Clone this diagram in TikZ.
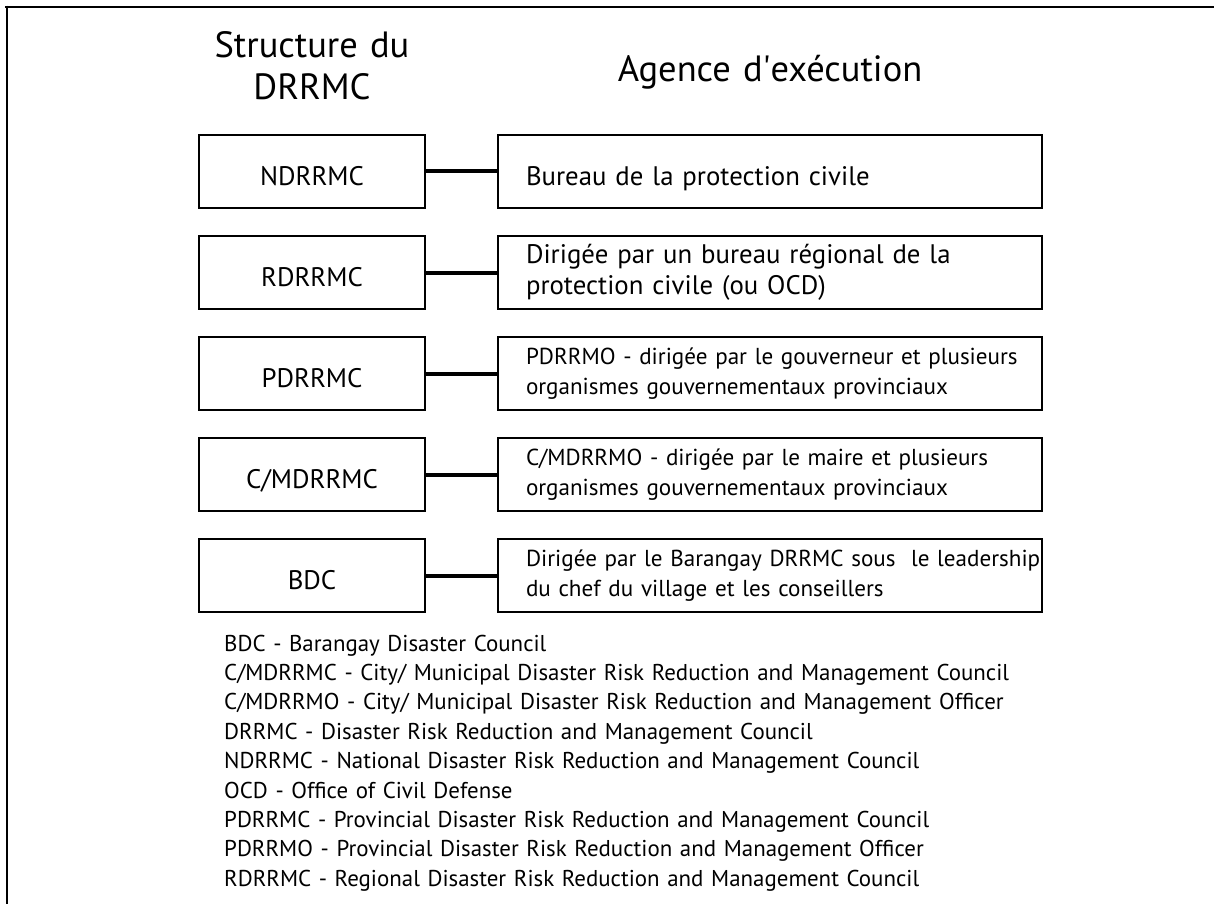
\documentclass[tikz,border=0pt]{standalone}
\usepackage{fontspec}
\setmainfont{PT Sans}
\usetikzlibrary{positioning}

\begin{document}
\begin{tikzpicture}[
  x=1pt, y=-1pt,
  council/.style={draw, line width=2pt, minimum width=226pt, minimum height=73pt,
    text height=28pt, text depth=0pt, font=\fontsize{26.8}{31}\selectfont},
  agency/.style={draw, line width=2pt, minimum width=544pt, minimum height=73pt,
    text width=544pt, inner xsep=0pt, align=left,
    execute at begin node={\leftskip=28pt\rightskip=-12pt plus 1fil\hyphenpenalty=10000},
    font=\fontsize{26.8}{31}\selectfont},
  agencysmall/.style={agency, font=\fontsize{23.1}{29.5}\selectfont},
  link/.style={draw, line width=4pt},
  head/.style={text width=400pt, align=center, inner sep=0pt, font=\fontsize{36.5}{42}\selectfont},
  glossary/.style={text width=900pt, align=left, inner sep=0pt, font=\fontsize{22.9}{29.4}\selectfont}
]
\useasboundingbox (0,0) rectangle (1214,904);

% frame (only top and left edges show)
\draw[line width=2.2pt] (5,6.7) -- (1214,6.7);
\draw[line width=2.2pt] (6.8,5.6) -- (6.8,904);

% structure column
\node[council] (ndrrmc) at (312,171.5) {NDRRMC};
\node[council, below=26pt of ndrrmc] (rdrrmc) {RDRRMC};
\node[council, below=26pt of rdrrmc] (pdrrmc) {PDRRMC};
\node[council, below=26pt of pdrrmc] (cmdrrmc) {C/MDRRMC};
\node[council, below=26pt of cmdrrmc] (bdc) {BDC};

% implementing agencies
\node[agency, right=71pt of ndrrmc, text height=28pt, text depth=0pt] (ocd)
  {Bureau de la protection civile};
\node[agency, right=71pt of rdrrmc] (regionaloffice)
  {Dirigée par un bureau régional de la\\protection civile (ou OCD)};
\node[agencysmall, right=71pt of pdrrmc] (pdrrmo)
  {PDRRMO - dirigée par le gouverneur et plusieurs\\organismes gouvernementaux provinciaux};
\node[agencysmall, right=71pt of cmdrrmc] (cmdrrmo)
  {C/MDRRMO - dirigée par le maire et plusieurs\\organismes gouvernementaux provinciaux};
\node[agencysmall, right=71pt of bdc] (barangay)
  {Dirigée par le Barangay DRRMC sous~ le leadership\\du chef du village et les conseillers};

\draw[link] (ndrrmc) -- (ocd);
\draw[link] (rdrrmc) -- (regionaloffice);
\draw[link] (pdrrmc) -- (pdrrmo);
\draw[link] (cmdrrmc) -- (cmdrrmo);
\draw[link] (bdc) -- (barangay);

% column heads
\node[head, anchor=base] (structurehead) at (ndrrmc.north |- 0,58) {Structure du\\DRRMC};
\node[head, anchor=base] (agencyhead) at (ocd.north |- 0,82) {Agence d\textquotesingle exécution};

% acronyms
\node[glossary, anchor=base west] (acronyms) at (224,651)
  {BDC - Barangay Disaster Council\\
   C/MDRRMC - City/ Municipal Disaster Risk Reduction and Management Council\\
   C/MDRRMO - City/ Municipal Disaster Risk Reduction and Management Officer\\
   DRRMC - Disaster Risk Reduction and Management Council\\
   NDRRMC - National Disaster Risk Reduction and Management Council\\
   OCD - Office of Civil Defense\\
   PDRRMC - Provincial Disaster Risk Reduction and Management Council\\
   PDRRMO - Provincial Disaster Risk Reduction and Management Officer\\
   RDRRMC - Regional Disaster Risk Reduction and Management Council};

\end{tikzpicture}
\end{document}
